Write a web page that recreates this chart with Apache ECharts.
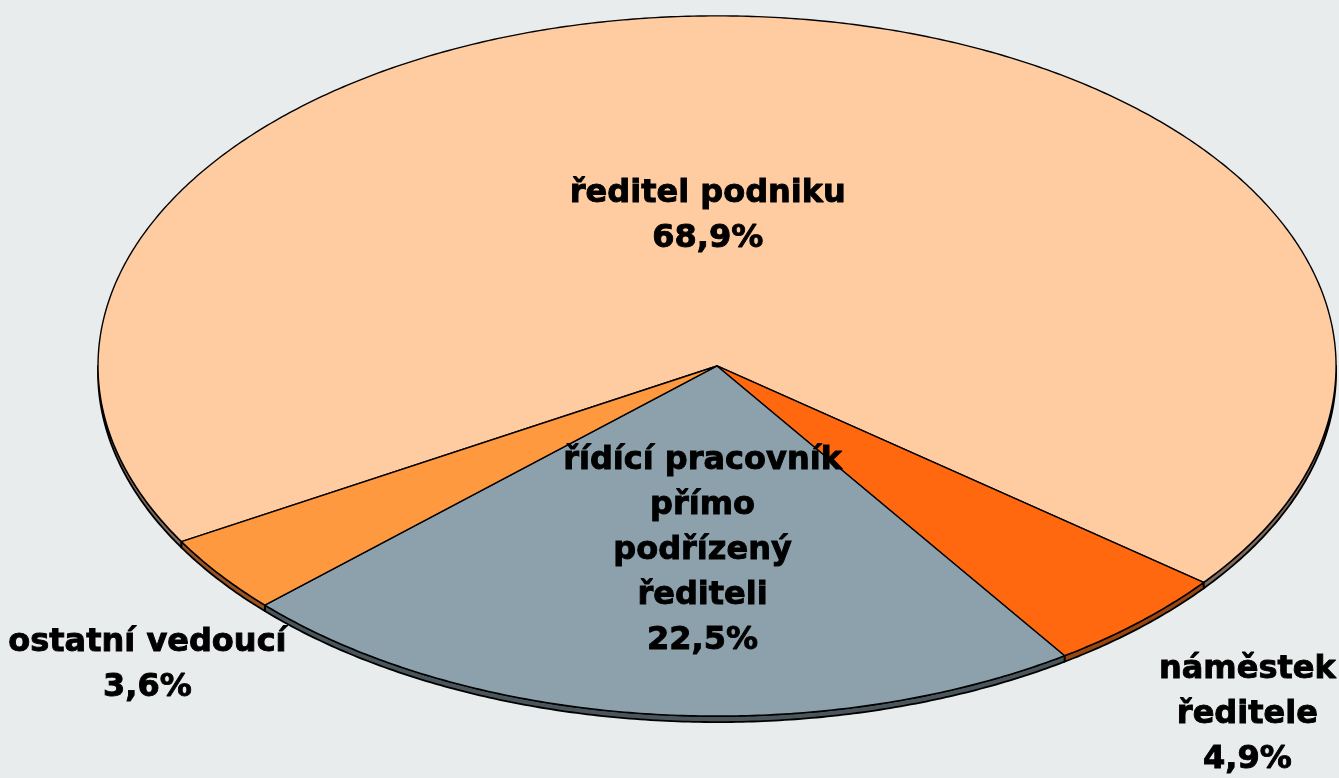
<!DOCTYPE html>
<html>
<head>
<meta charset="utf-8">
<script src="https://cdn.jsdelivr.net/npm/echarts@6/dist/echarts.min.js"></script>
<style>
html,body{margin:0;padding:0;background:#E8ECEC;}
#chart{width:1339px;height:778px;}
</style>
</head>
<body>
<div id="chart"></div>
<script>
// ---- data ----
const categories = ['ředitel podniku', 'náměstek ředitele', 'řídící pracovník přímo podřízený řediteli', 'ostatní vedoucí'];
const labelLines = [['ředitel podniku'], ['náměstek', 'ředitele'], ['řídící pracovník', 'přímo', 'podřízený', 'řediteli'], ['ostatní vedoucí']];
const values = [68.9, 4.9, 22.5, 3.6];

// ---- styles / layout ----
const topColors = ['#FFCCA2', '#FF680F', '#8CA1AB', '#FF9940'];
const sideColors = ['#7E6A5C', '#9A4610', '#4A565C', '#9A5222'];
const labelRadial = [0.43, 1.15, 0.53, 1.15];
const labelOffset = [[-28, 0], [45, 54], [22, 0], [2, 59]];
const START_DEG = 149.9;
const DEPTH = 6;

const total = values.reduce((a, b) => a + b, 0);
const cum = [];
values.reduce((acc, v, i) => { cum[i] = acc; return acc + v; }, 0);

function arcPts(cx, cy, rx, ry, a0, a1, dy) {
  const pts = [];
  const n = Math.max(2, Math.ceil(Math.abs(a1 - a0) / 0.5));
  for (let k = 0; k <= n; k++) {
    const a = (a0 + (a1 - a0) * k / n) * Math.PI / 180;
    pts.push([cx + rx * Math.cos(a), cy + ry * Math.sin(a) + (dy || 0)]);
  }
  return pts;
}

function renderItem(params, api) {
  const i = params.dataIndex;
  const W = api.getWidth(), H = api.getHeight();
  const cx = W * 0.5355, cy = H * 0.4704, rx = W * 0.4623, ry = H * 0.45;
  const v = api.value(0);
  const a0 = START_DEG + 360 * cum[i] / total;
  const a1 = a0 + 360 * v / total;
  const children = [];
  for (let k = 0; k < 2; k++) {
    const s = Math.max(a0, k * 360), e = Math.min(a1, k * 360 + 180);
    if (e > s) {
      const top = arcPts(cx, cy, rx, ry, s, e, 0);
      const bot = arcPts(cx, cy, rx, ry, e, s, DEPTH);
      children.push({
        type: 'polygon', z2: 5,
        shape: { points: top.concat(bot) },
        style: { fill: sideColors[i], stroke: '#000', lineWidth: 1.8, lineJoin: 'round' }
      });
    }
  }
  const face = [[cx, cy]].concat(arcPts(cx, cy, rx, ry, a0, a1, 0));
  children.push({
    type: 'polygon', z2: 10,
    shape: { points: face },
    style: { fill: topColors[i], stroke: '#000', lineWidth: 1.4, lineJoin: 'round' }
  });
  const mid = (a0 + a1) / 2 * Math.PI / 180;
  const f = labelRadial[i];
  const lx = cx + rx * f * Math.cos(mid) + labelOffset[i][0];
  const ly = cy + ry * f * Math.sin(mid) + labelOffset[i][1];
  const txt = labelLines[i].concat([v.toFixed(1).replace('.', ',') + '%']).join('\n');
  children.push({
    type: 'text', z2: 100,
    x: lx, y: ly,
    style: {
      text: txt, align: 'center', verticalAlign: 'middle',
      fontFamily: 'DejaVu Sans', fontWeight: 'bold', fontSize: 32, lineHeight: 45,
      fill: '#000', stroke: '#000', lineWidth: 0.9
    }
  });
  return { type: 'group', children: children };
}

const chart = echarts.init(document.getElementById('chart'), null, { renderer: 'canvas' });
chart.setOption({
  backgroundColor: '#E8ECEC',
  animation: false,
  series: [{
    type: 'custom',
    coordinateSystem: 'none',
    renderItem: renderItem,
    data: values.map((v, i) => ({ name: categories[i], value: [v] }))
  }]
});
</script>
</body>
</html>
